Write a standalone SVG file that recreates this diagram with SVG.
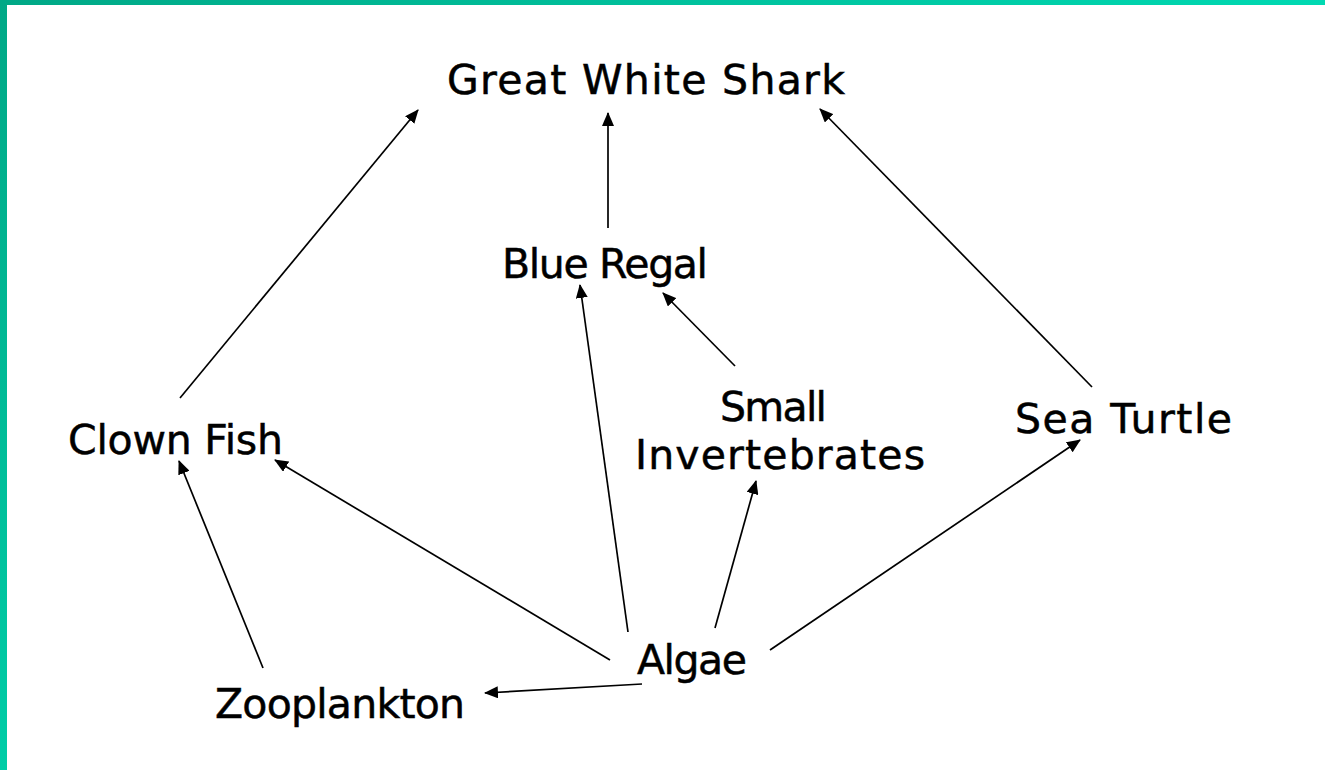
<svg xmlns="http://www.w3.org/2000/svg" width="1325" height="770" viewBox="0 0 1325 770">
<style>
.lbl{font-family:"DejaVu Sans","Liberation Sans",sans-serif;font-size:41px;fill:#000;stroke:#000;stroke-width:0.5}
.edge{stroke:#000;stroke-width:1.7;fill:none;marker-end:url(#ah)}
</style>
<defs>
<linearGradient id="gTop" x1="0" y1="0" x2="1" y2="0"><stop offset="0" stop-color="#00A886"/><stop offset="1" stop-color="#00D9B2"/></linearGradient>
<linearGradient id="gLeft" x1="0" y1="0" x2="0" y2="1"><stop offset="0" stop-color="#00A886"/><stop offset="1" stop-color="#00CDA7"/></linearGradient>
<marker id="ah" markerWidth="14" markerHeight="12" refX="13" refY="6" orient="auto" markerUnits="userSpaceOnUse"><path d="M0,0 L14,6 L0,12 z" fill="#000"/></marker>
</defs>
<rect x="0" y="0" width="1325" height="770" fill="#fff"/>
<rect x="0" y="0" width="1325" height="5" fill="url(#gTop)"/>
<rect x="0" y="0" width="7" height="770" fill="url(#gLeft)"/>
<g id="connectors">
<line class="edge" x1="180" y1="398" x2="418" y2="110"/>
<line class="edge" x1="608" y1="228" x2="608" y2="113"/>
<line class="edge" x1="1092" y1="387" x2="820" y2="109"/>
<line class="edge" x1="735" y1="366" x2="663" y2="293"/>
<line class="edge" x1="628" y1="632" x2="580" y2="285"/>
<line class="edge" x1="610" y1="660" x2="275" y2="460"/>
<line class="edge" x1="263" y1="668" x2="179" y2="461"/>
<line class="edge" x1="715" y1="628" x2="756" y2="481"/>
<line class="edge" x1="770" y1="650" x2="1080" y2="440"/>
<line class="edge" x1="642" y1="684" x2="485" y2="693"/>
</g>
<g id="great-white-shark"><text class="lbl" x="447" y="94" textLength="398">Great White Shark</text></g>
<g id="blue-regal"><text class="lbl" x="502" y="278" textLength="206">Blue Regal</text></g>
<g id="clown-fish"><text class="lbl" x="68" y="454" textLength="215">Clown Fish</text></g>
<g id="small-invertebrates"><text class="lbl" x="720" y="421" textLength="107">Small</text><text class="lbl" x="635" y="469" textLength="290">Invertebrates</text></g>
<g id="sea-turtle"><text class="lbl" x="1015" y="433" textLength="217">Sea Turtle</text></g>
<g id="algae"><text class="lbl" x="637" y="674" textLength="110">Algae</text></g>
<g id="zooplankton"><text class="lbl" x="215" y="718" textLength="250">Zooplankton</text></g>
</svg>
